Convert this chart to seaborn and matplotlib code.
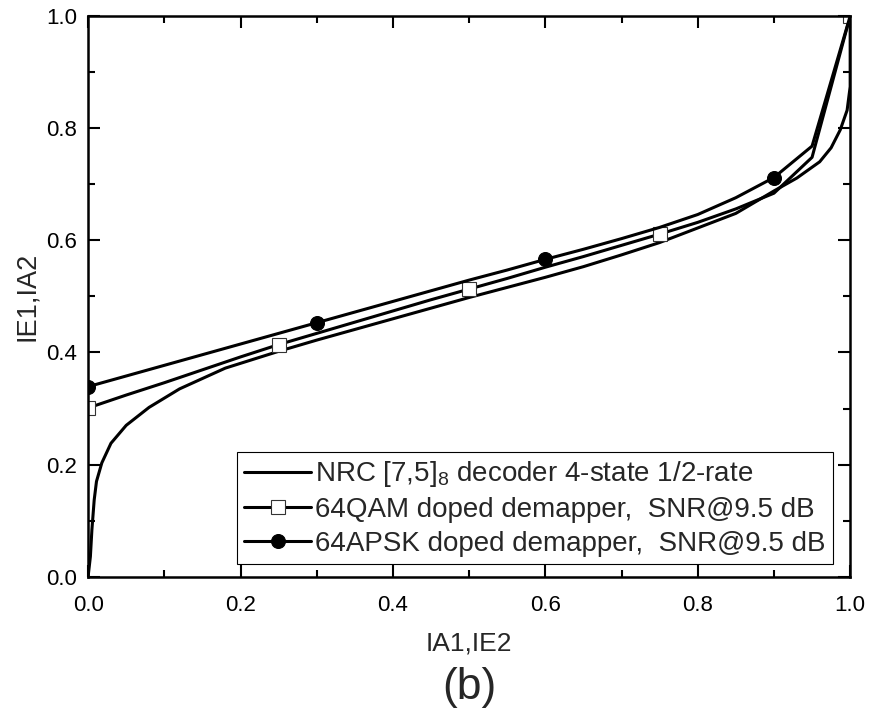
import numpy as np
import pandas as pd
import seaborn as sns
import matplotlib.pyplot as plt
from matplotlib.ticker import MultipleLocator

# Curva NRC [7,5]8 (decodificador)
nrc_x = [0.000, 0.003, 0.005, 0.008, 0.011, 0.018, 0.030, 0.050, 0.080, 0.120,
         0.180, 0.250, 0.300, 0.350, 0.400, 0.450, 0.500, 0.550, 0.600, 0.650,
         0.700, 0.750, 0.800, 0.850, 0.900, 0.930, 0.960, 0.975, 0.987, 0.996,
         1.000, 1.000]
nrc_y = [0.000, 0.036, 0.084, 0.137, 0.170, 0.203, 0.238, 0.270, 0.302, 0.335,
         0.372, 0.402, 0.422, 0.441, 0.460, 0.479, 0.498, 0.516, 0.534, 0.553,
         0.574, 0.596, 0.622, 0.648, 0.688, 0.711, 0.740, 0.765, 0.797, 0.832,
         0.874, 1.000]

# Demapper 64QAM y 64APSK (paso 0.05)
ia_x = [0.00, 0.05, 0.10, 0.15, 0.20, 0.25, 0.30, 0.35, 0.40, 0.45, 0.50,
        0.55, 0.60, 0.65, 0.70, 0.75, 0.80, 0.85, 0.90, 0.95, 1.00]
qam_y = [0.301, 0.324, 0.346, 0.369, 0.392, 0.414, 0.434, 0.454, 0.474, 0.494,
         0.513, 0.532, 0.552, 0.571, 0.591, 0.611, 0.632, 0.656, 0.684, 0.748,
         1.000]
apsk_y = [0.339, 0.358, 0.377, 0.396, 0.415, 0.434, 0.453, 0.472, 0.491, 0.510,
          0.529, 0.547, 0.566, 0.584, 0.603, 0.623, 0.646, 0.676, 0.712, 0.768,
          1.000]

etiquetas = [r"NRC [7,5]$_{8}$ decoder 4-state 1/2-rate",
             "64QAM doped demapper,  SNR@9.5 dB",
             "64APSK doped demapper,  SNR@9.5 dB"]

sns.set_theme(style="ticks")
plt.rcParams['font.family'] = ['Liberation Sans', 'DejaVu Sans']
plt.rcParams['mathtext.fontset'] = 'custom'
plt.rcParams['mathtext.rm'] = 'Liberation Sans'
plt.rcParams['mathtext.it'] = 'Liberation Sans'

df_nrc = pd.DataFrame({'x': nrc_x, 'y': nrc_y})
df_qam = pd.DataFrame({'x': ia_x, 'y': qam_y})
df_apsk = pd.DataFrame({'x': ia_x, 'y': apsk_y})

fig = plt.figure(figsize=(8.81, 7.12), dpi=100)
ax = fig.add_axes([0.100, 0.19, 0.865, 0.7875])

sns.lineplot(data=df_nrc, x='x', y='y', ax=ax, color='black', lw=2.2,
             estimator=None, sort=False, label=etiquetas[0])
sns.lineplot(data=df_qam, x='x', y='y', ax=ax, color='black', lw=2.2,
             estimator=None, sort=False, marker='s', markersize=9.5,
             markerfacecolor='white', markeredgecolor='#333333',
             markeredgewidth=0.8, markevery=5, label=etiquetas[1])
sns.lineplot(data=df_apsk, x='x', y='y', ax=ax, color='black', lw=2.2,
             estimator=None, sort=False, marker='o', markersize=10,
             markerfacecolor='black', markeredgecolor='black',
             markeredgewidth=0.8, markevery=6, label=etiquetas[2])

ax.set_xlim(0, 1)
ax.set_ylim(0, 1)
ax.xaxis.set_major_locator(MultipleLocator(0.2))
ax.xaxis.set_minor_locator(MultipleLocator(0.1))
ax.yaxis.set_major_locator(MultipleLocator(0.2))
ax.yaxis.set_minor_locator(MultipleLocator(0.1))
ax.tick_params(which='both', direction='in', top=True, right=True,
               width=1.5, colors='black', labelsize=16)
ax.tick_params(axis='x', pad=13)
ax.tick_params(axis='y', pad=8)
ax.tick_params(which='major', length=8.5)
ax.tick_params(which='minor', length=5)
for s in ax.spines.values():
    s.set_linewidth(1.8)
    s.set_color('black')

ax.set_xlabel('IA1,IE2', fontsize=19, va='center')
ax.xaxis.set_label_coords(0.5, -0.119)
ax.set_ylabel('IE1,IA2', fontsize=19.5, va='center')
ax.yaxis.set_label_coords(-0.080, 0.5)

leg = ax.legend(loc='lower left', bbox_to_anchor=(0.196, 0.023),
                borderaxespad=0, fontsize=20, frameon=True, fancybox=False,
                framealpha=1, edgecolor='black', handlelength=2.4,
                handletextpad=0.15, labelspacing=0.28, borderpad=0.25)
leg.get_frame().set_linewidth(0.8)

fig.text(469 / 881, 0.018, '(b)', fontsize=32, ha='center', va='baseline')

plt.savefig('out.png', dpi=100)
plt.close()
